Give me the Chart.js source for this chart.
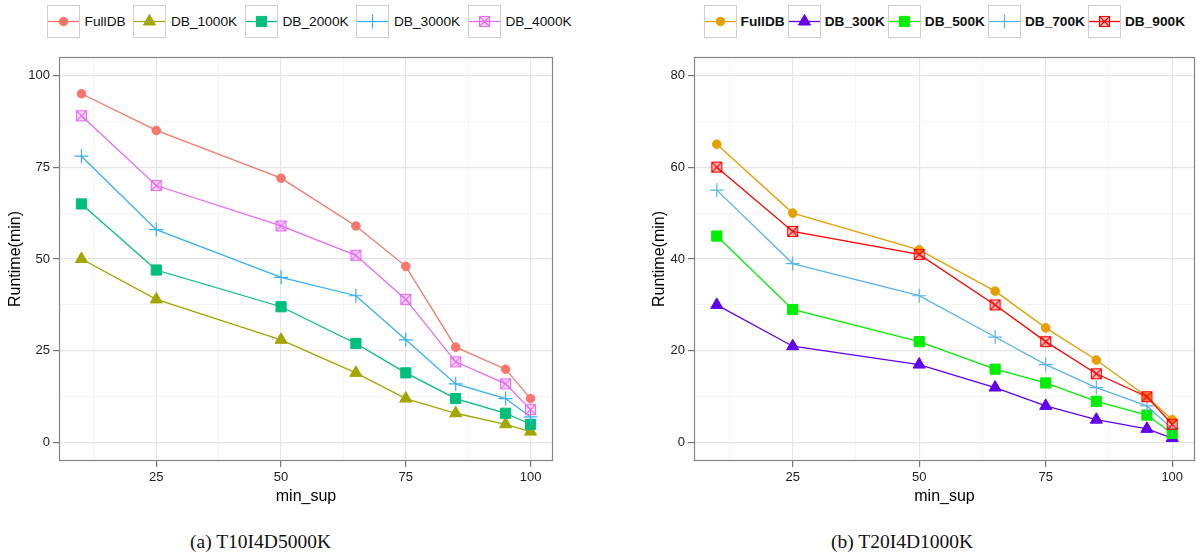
<!DOCTYPE html>
<html>
<head>
<meta charset="utf-8">
<script src="https://cdn.jsdelivr.net/npm/chart.js@4.4.1/dist/chart.umd.min.js"></script>
<style>
  body { margin: 0; background: #fff; }
  #page { position: relative; width: 1197px; height: 557px; overflow: hidden; font-family: "Liberation Sans", Arial, sans-serif; }
  .legend { position: absolute; top: 5px; display: flex; align-items: center; font-size: 13.7px; color: #111; white-space: nowrap; }
  .legend .item { display: flex; align-items: center; }
  .legend .key { width: 33px; height: 33px; border: 1px solid #cfcfcf; box-sizing: border-box; }
  .legend .key canvas { display: block; }
  #legendA { left: 47px; }
  #legendA .key { margin-right: 4.6px; }
  #legendA .item { margin-right: 7.7px; }
  #legendB { left: 704px; font-weight: bold; }
  #legendB .key { margin-right: 3.6px; }
  #legendB .item { margin-right: 3.4px; }
  .plot { position: absolute; top: 45px; }
  .caption { position: absolute; top: 531px; font-family: "Liberation Serif", serif; font-size: 19.5px; line-height: 22px; color: #111; }
</style>
</head>
<body>
<div id="page">
  <div class="legend" id="legendA"></div>
  <div class="legend" id="legendB"></div>
  <canvas class="plot" id="chartA" width="600" height="470" style="left:0px"></canvas>
  <canvas class="plot" id="chartB" width="557" height="470" style="left:640px"></canvas>
  <div class="caption" style="left:190px">(a) T10I4D5000K</div>
  <div class="caption" style="left:831px">(b) T20I4D1000K</div>
</div>
<script>
// x values shared by both panels
const minSup = [10, 25, 50, 65, 75, 85, 95, 100];

// (a) T10I4D5000K
const seriesA = ['FullDB', 'DB_1000K', 'DB_2000K', 'DB_3000K', 'DB_4000K'];
const fullDbA = [95, 85, 72, 59, 48, 26, 20, 12];
const db1000k = [50, 39, 28, 19, 12, 8, 5, 3];
const db2000k = [65, 47, 37, 27, 19, 12, 8, 5];
const db3000k = [78, 58, 45, 40, 28, 16, 12, 7];
const db4000k = [89, 70, 59, 51, 39, 22, 16, 9];

// (b) T20I4D1000K
const seriesB = ['FullDB', 'DB_300K', 'DB_500K', 'DB_700K', 'DB_900K'];
const fullDbB = [65, 50, 42, 33, 25, 18, 10, 5];
const db300k = [30, 21, 17, 12, 8, 5, 3, 1];
const db500k = [45, 29, 22, 16, 13, 9, 6, 2];
const db700k = [55, 39, 32, 23, 17, 12, 8, 3];
const db900k = [60, 46, 41, 30, 22, 15, 10, 4];

// ticks (empty label = minor grid line)
const xTicks = [12.5, 25, 37.5, 50, 62.5, 75, 87.5, 100];
const xLabels = ['', '25', '', '50', '', '75', '', '100'];
const yTicksA = [0, 12.5, 25, 37.5, 50, 62.5, 75, 87.5, 100];
const yLabelsA = ['0', '', '25', '', '50', '', '75', '', '100'];
const yTicksB = [0, 10, 20, 30, 40, 50, 60, 70, 80];
const yLabelsB = ['0', '', '20', '', '40', '', '60', '', '80'];

const stylesA = [
  { color: '#F8766D', marker: 'circle' },
  { color: '#A3A500', marker: 'triangle' },
  { color: '#00BF7D', marker: 'square' },
  { color: '#35B0F5', marker: 'plus' },
  { color: '#E76BF3', marker: 'boxcross', fill: 'rgba(231,107,243,0.22)' }
];
const stylesB = [
  { color: '#E69F00', marker: 'circle' },
  { color: '#6200F2', marker: 'triangle' },
  { color: '#00EE00', marker: 'square' },
  { color: '#5AB4EA', marker: 'plus' },
  { color: '#FF0000', marker: 'boxcross', fill: 'rgba(255,80,80,0.35)' }
];

const FONT = '"Liberation Sans", Arial, sans-serif';

function boxCross(color, fill) {
  const c = document.createElement('canvas');
  c.width = 13; c.height = 13;
  const g = c.getContext('2d');
  g.fillStyle = fill;
  g.fillRect(1.5, 1.5, 10, 10);
  g.strokeStyle = color;
  g.lineWidth = 1.1;
  g.strokeRect(1.5, 1.5, 10, 10);
  g.beginPath();
  g.moveTo(1.5, 1.5); g.lineTo(11.5, 11.5);
  g.moveTo(11.5, 1.5); g.lineTo(1.5, 11.5);
  g.stroke();
  return c;
}

function markerOpts(s) {
  switch (s.marker) {
    case 'circle': return { pointStyle: 'circle', radius: 4.3, borderWidth: 1 };
    case 'triangle': return { pointStyle: 'triangle', radius: 7, borderWidth: 1 };
    case 'square': return { pointStyle: 'rect', radius: 7.2, borderWidth: 1 };
    case 'plus': return { pointStyle: 'cross', radius: 7, borderWidth: 1.2 };
    default: return { pointStyle: boxCross(s.color, s.fill), radius: 6, borderWidth: 1 };
  }
}

function buildLegend(id, series, styles) {
  const el = document.getElementById(id);
  series.forEach((name, i) => {
    const s = styles[i];
    const item = document.createElement('div');
    item.className = 'item';
    const key = document.createElement('div');
    key.className = 'key';
    const cv = document.createElement('canvas');
    cv.width = 31; cv.height = 31;
    key.appendChild(cv);
    const label = document.createElement('span');
    label.textContent = name;
    item.appendChild(key);
    item.appendChild(label);
    el.appendChild(item);

    const g = cv.getContext('2d');
    g.strokeStyle = s.color;
    g.lineWidth = 1.3;
    g.beginPath();
    g.moveTo(0, 15.5); g.lineTo(31, 15.5);
    g.stroke();
    const m = markerOpts(s);
    g.fillStyle = s.color;
    g.strokeStyle = s.color;
    g.lineWidth = m.borderWidth;
    Chart.helpers.drawPoint(g, { pointStyle: m.pointStyle, radius: m.radius, rotation: 0, borderWidth: m.borderWidth }, 15.5, 15.5);
  });
}

const panelFrame = {
  id: 'panelFrame',
  beforeDraw(chart) {
    const { ctx, chartArea: a } = chart;
    ctx.save();
    ctx.fillStyle = '#fff';
    ctx.fillRect(a.left, a.top, a.right - a.left, a.bottom - a.top);
    ctx.restore();
  },
  afterDatasetsDraw(chart) {
    const { ctx, chartArea: a } = chart;
    ctx.save();
    ctx.strokeStyle = '#858585';
    ctx.lineWidth = 1.2;
    ctx.strokeRect(Math.round(a.left) + 0.5, Math.round(a.top) + 0.5,
      Math.round(a.right - a.left) - 1, Math.round(a.bottom - a.top) - 1);
    ctx.restore();
  }
};

function makeChart(id, series, values, styles, yTicks, yLabels, yMin, yMax, yWidth, yTitlePad, rightPad) {
  const labelOf = (ticks, labels, v) => labels[ticks.indexOf(v)] || '';
  const gridOpts = (ticks, labels) => ({
    color: c => labelOf(ticks, labels, c.tick && c.tick.value) ? '#e6e6e6' : '#f5f5f5',
    lineWidth: c => labelOf(ticks, labels, c.tick && c.tick.value) ? 1.2 : 1,
    tickLength: 6,
    tickWidth: 1.2,
    tickColor: c => labelOf(ticks, labels, c.tick && c.tick.value) ? '#777' : 'rgba(0,0,0,0)'
  });

  const datasets = series.map((name, i) => {
    const s = styles[i];
    const m = markerOpts(s);
    return {
      label: name,
      data: minSup.map((x, j) => ({ x: x, y: values[i][j] })),
      borderColor: s.color,
      backgroundColor: s.color,
      borderWidth: 1.3,
      tension: 0,
      pointStyle: m.pointStyle,
      pointRadius: m.radius,
      pointBorderWidth: m.borderWidth,
      pointBackgroundColor: s.color,
      pointBorderColor: s.color,
      order: series.length - i
    };
  });

  return new Chart(document.getElementById(id), {
    type: 'line',
    data: { datasets: datasets },
    plugins: [panelFrame],
    options: {
      responsive: false,
      animation: false,
      events: [],
      layout: { autoPadding: false, padding: { left: 0, top: 12, right: rightPad, bottom: 0 } },
      plugins: { legend: { display: false }, tooltip: { enabled: false } },
      scales: {
        x: {
          type: 'linear', min: 5.5, max: 104.5,
          afterBuildTicks: s => { s.ticks = xTicks.map(v => ({ value: v })); },
          afterFit: s => { s.height = 54; },
          ticks: { autoSkip: false, maxRotation: 0, padding: 3, color: '#222', font: { family: FONT, size: 13 },
            callback: v => labelOf(xTicks, xLabels, v) },
          grid: gridOpts(xTicks, xLabels),
          border: { display: false },
          title: { display: true, text: 'min_sup', color: '#000', font: { family: FONT, size: 16 }, padding: { top: 0, bottom: 9 } }
        },
        y: {
          type: 'linear', min: yMin, max: yMax,
          afterBuildTicks: s => { s.ticks = yTicks.map(v => ({ value: v })); },
          afterFit: s => { s.width = yWidth; },
          ticks: { autoSkip: false, padding: 3, color: '#222', font: { family: FONT, size: 13 },
            callback: v => labelOf(yTicks, yLabels, v) },
          grid: gridOpts(yTicks, yLabels),
          border: { display: false },
          title: { display: true, text: 'Runtime(min)', color: '#000', font: { family: FONT, size: 16 }, padding: { top: yTitlePad, bottom: 0 } }
        }
      }
    }
  });
}

buildLegend('legendA', seriesA, stylesA);
buildLegend('legendB', seriesB, stylesB);
makeChart('chartA', seriesA, [fullDbA, db1000k, db2000k, db3000k, db4000k], stylesA,
  yTicksA, yLabelsA, -5, 105, 59, 6.4, 47);
makeChart('chartB', seriesB, [fullDbB, db300k, db500k, db700k, db900k], stylesB,
  yTicksB, yLabelsB, -4, 84, 54, 10.4, 2);
</script>
</body>
</html>
